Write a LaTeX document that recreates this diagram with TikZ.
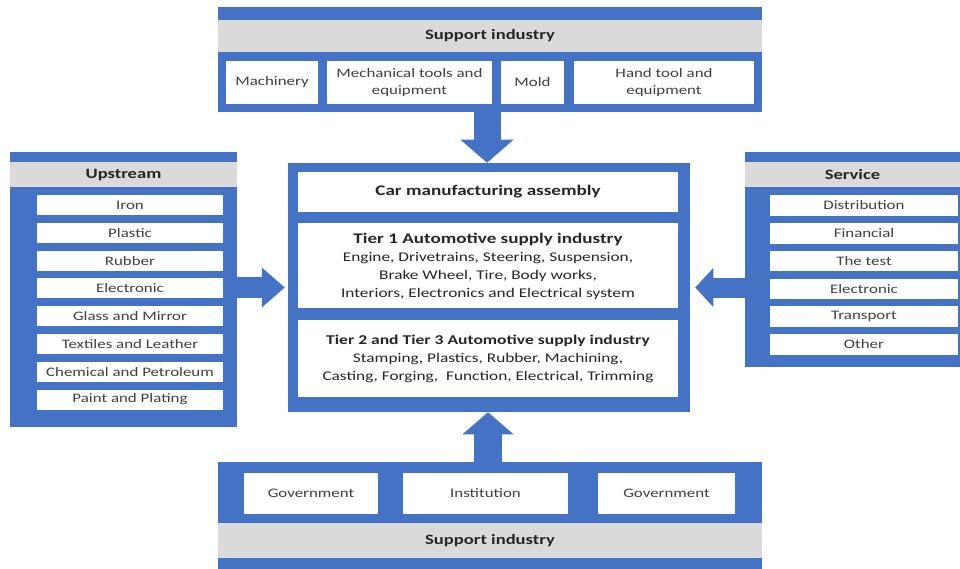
\documentclass[tikz,border=0pt]{standalone}
\usepackage{fontspec}
\setmainfont{Carlito}[FakeStretch=1.3]
\usetikzlibrary{arrows.meta}

\definecolor{panelblue}{HTML}{4472C4}
\definecolor{bandgrey}{HTML}{DADADA}
\definecolor{itemgrey}{HTML}{404040}

\tikzset{every picture/.style={line width=0.5pt}}
\tikzset{
  panel/.style={fill=panelblue, inner sep=0pt},
  band/.style={fill=bandgrey, inner sep=0pt, minimum height=25pt, text=black!85,
    font=\fontsize{14.3}{17}\selectfont\bfseries},
  item/.style={fill=white, inner sep=1pt, align=center, text=itemgrey,
    font=\fontsize{13}{17}\selectfont},
  upitem/.style={item, minimum width=186pt, minimum height=20pt},
  servitem/.style={item, minimum width=188pt, minimum height=20.5pt},
  tierbox/.style={fill=white, inner sep=1pt, align=center, text=black!85,
    minimum width=380pt, font=\fontsize{13.3}{18}\selectfont},
  blockarrow/.style={draw=panelblue, line cap=butt}
}

\begin{document}
\begin{tikzpicture}[x=1pt,y=1pt,yscale=-1,xscale=1]
\useasboundingbox (0,0) rectangle (960,569);

%Shape: top support panel
\node [panel, minimum width=544pt, minimum height=105pt] (top) at (490,59.5) {};
\node [band, minimum width=544pt, minimum height=32pt] (topband) at (490,36) {Support industry};
\node [item, minimum width=92pt, minimum height=43pt] (machinery) at (272,82.5) {Machinery};
\node [item, minimum width=165pt, minimum height=43pt] (mechtools) at (409.5,82.5) {Mechanical tools and\\equipment};
\node [item, minimum width=63pt, minimum height=43pt] (mold) at (532.5,82.5) {Mold};
\node [item, minimum width=180pt, minimum height=43pt] (handtool) at (664,82.5) {Hand tool and\\equipment};

%Shape: centre assembly panel
\node [panel, minimum width=402pt, minimum height=249pt] (core) at (489,287.5) {};
\node [tierbox, minimum height=40pt, font=\fontsize{14.7}{18}\selectfont\bfseries] (assembly) at (488,192) {Car manufacturing assembly};
\node [tierbox, minimum height=85pt, text depth=0pt] (tierone) at (488,265.5) {{\fontsize{14.7}{18}\selectfont\bfseries Tier 1 Automotive supply industry}\\
  Engine, Drivetrains, Steering, Suspension,\\
  Brake Wheel, Tire, Body works,\\
  Interiors, Electronics and Electrical system};
\node [tierbox, minimum height=77pt] (tiertwo) at (488,358.5) {{\fontsize{13.5}{18}\selectfont\bfseries Tier 2 and Tier 3 Automotive supply industry}\\
  Stamping, Plastics, Rubber, Machining,\\
  Casting, Forging,\ \ Function, Electrical, Trimming};

%Shape: upstream panel
\node [panel, minimum width=227pt, minimum height=275pt] (up) at (123.5,289.5) {};
\node [band, minimum width=227pt] (upband) at (123.5,174.5) {Upstream};
\node [upitem] (iron) at (130,205) {Iron};
\node [upitem] (plastic) at (130,232.8) {Plastic};
\node [upitem] (rubber) at (130,260.6) {Rubber};
\node [upitem] (electronic) at (130,288.4) {Electronic};
\node [upitem] (glass) at (130,316.2) {Glass and Mirror};
\node [upitem] (textiles) at (130,344) {Textiles and Leather};
\node [upitem] (chemical) at (130,371.8) {Chemical and Petroleum};
\node [upitem] (paint) at (130,399.6) {Paint and Plating};

%Shape: service panel
\node [panel, minimum width=215pt, minimum height=215pt] (serv) at (852.5,259.5) {};
\node [band, minimum width=215pt] (servband) at (852.5,174.5) {Service};
\node [servitem] (distribution) at (864,205.5) {Distribution};
\node [servitem] (financial) at (864,233.3) {Financial};
\node [servitem] (thetest) at (864,261.1) {The test};
\node [servitem] (selectronic) at (864,288.9) {Electronic};
\node [servitem] (transport) at (864,316.7) {Transport};
\node [servitem] (other) at (864,344.5) {Other};

%Shape: bottom support panel
\node [panel, minimum width=544pt, minimum height=107pt] (bot) at (490,515.5) {};
\node [band, minimum width=544pt, minimum height=35pt] (botband) at (490,540.5) {Support industry};
\node [item, minimum width=134pt, minimum height=41pt] (govleft) at (311,493.5) {Government};
\node [item, minimum width=165pt, minimum height=41pt] (institution) at (485.5,493.5) {Institution};
\node [item, minimum width=137pt, minimum height=41pt] (govright) at (666.5,493.5) {Government};

%Block arrows into the centre panel
\draw [blockarrow, line width=27pt, -{Triangle[width=53pt,length=23pt,line width=0pt]}] ([xshift=-3pt]top.south) -- ([xshift=-3pt]top.south |- core.north);
\draw [blockarrow, line width=28pt, -{Triangle[width=51pt,length=22pt,line width=0pt]}] ([xshift=-2pt]bot.north) -- ([xshift=-2pt]bot.north |- core.south);
\draw [blockarrow, line width=21pt, -{Triangle[width=40pt,length=23pt,line width=0pt]}] (up.east |- core.west) -- ([xshift=-3pt]core.west);
\draw [blockarrow, line width=20pt, -{Triangle[width=39pt,length=18pt,line width=0pt]}] (serv.west |- core.east) -- ([xshift=5pt]core.east);

\end{tikzpicture}
\end{document}
